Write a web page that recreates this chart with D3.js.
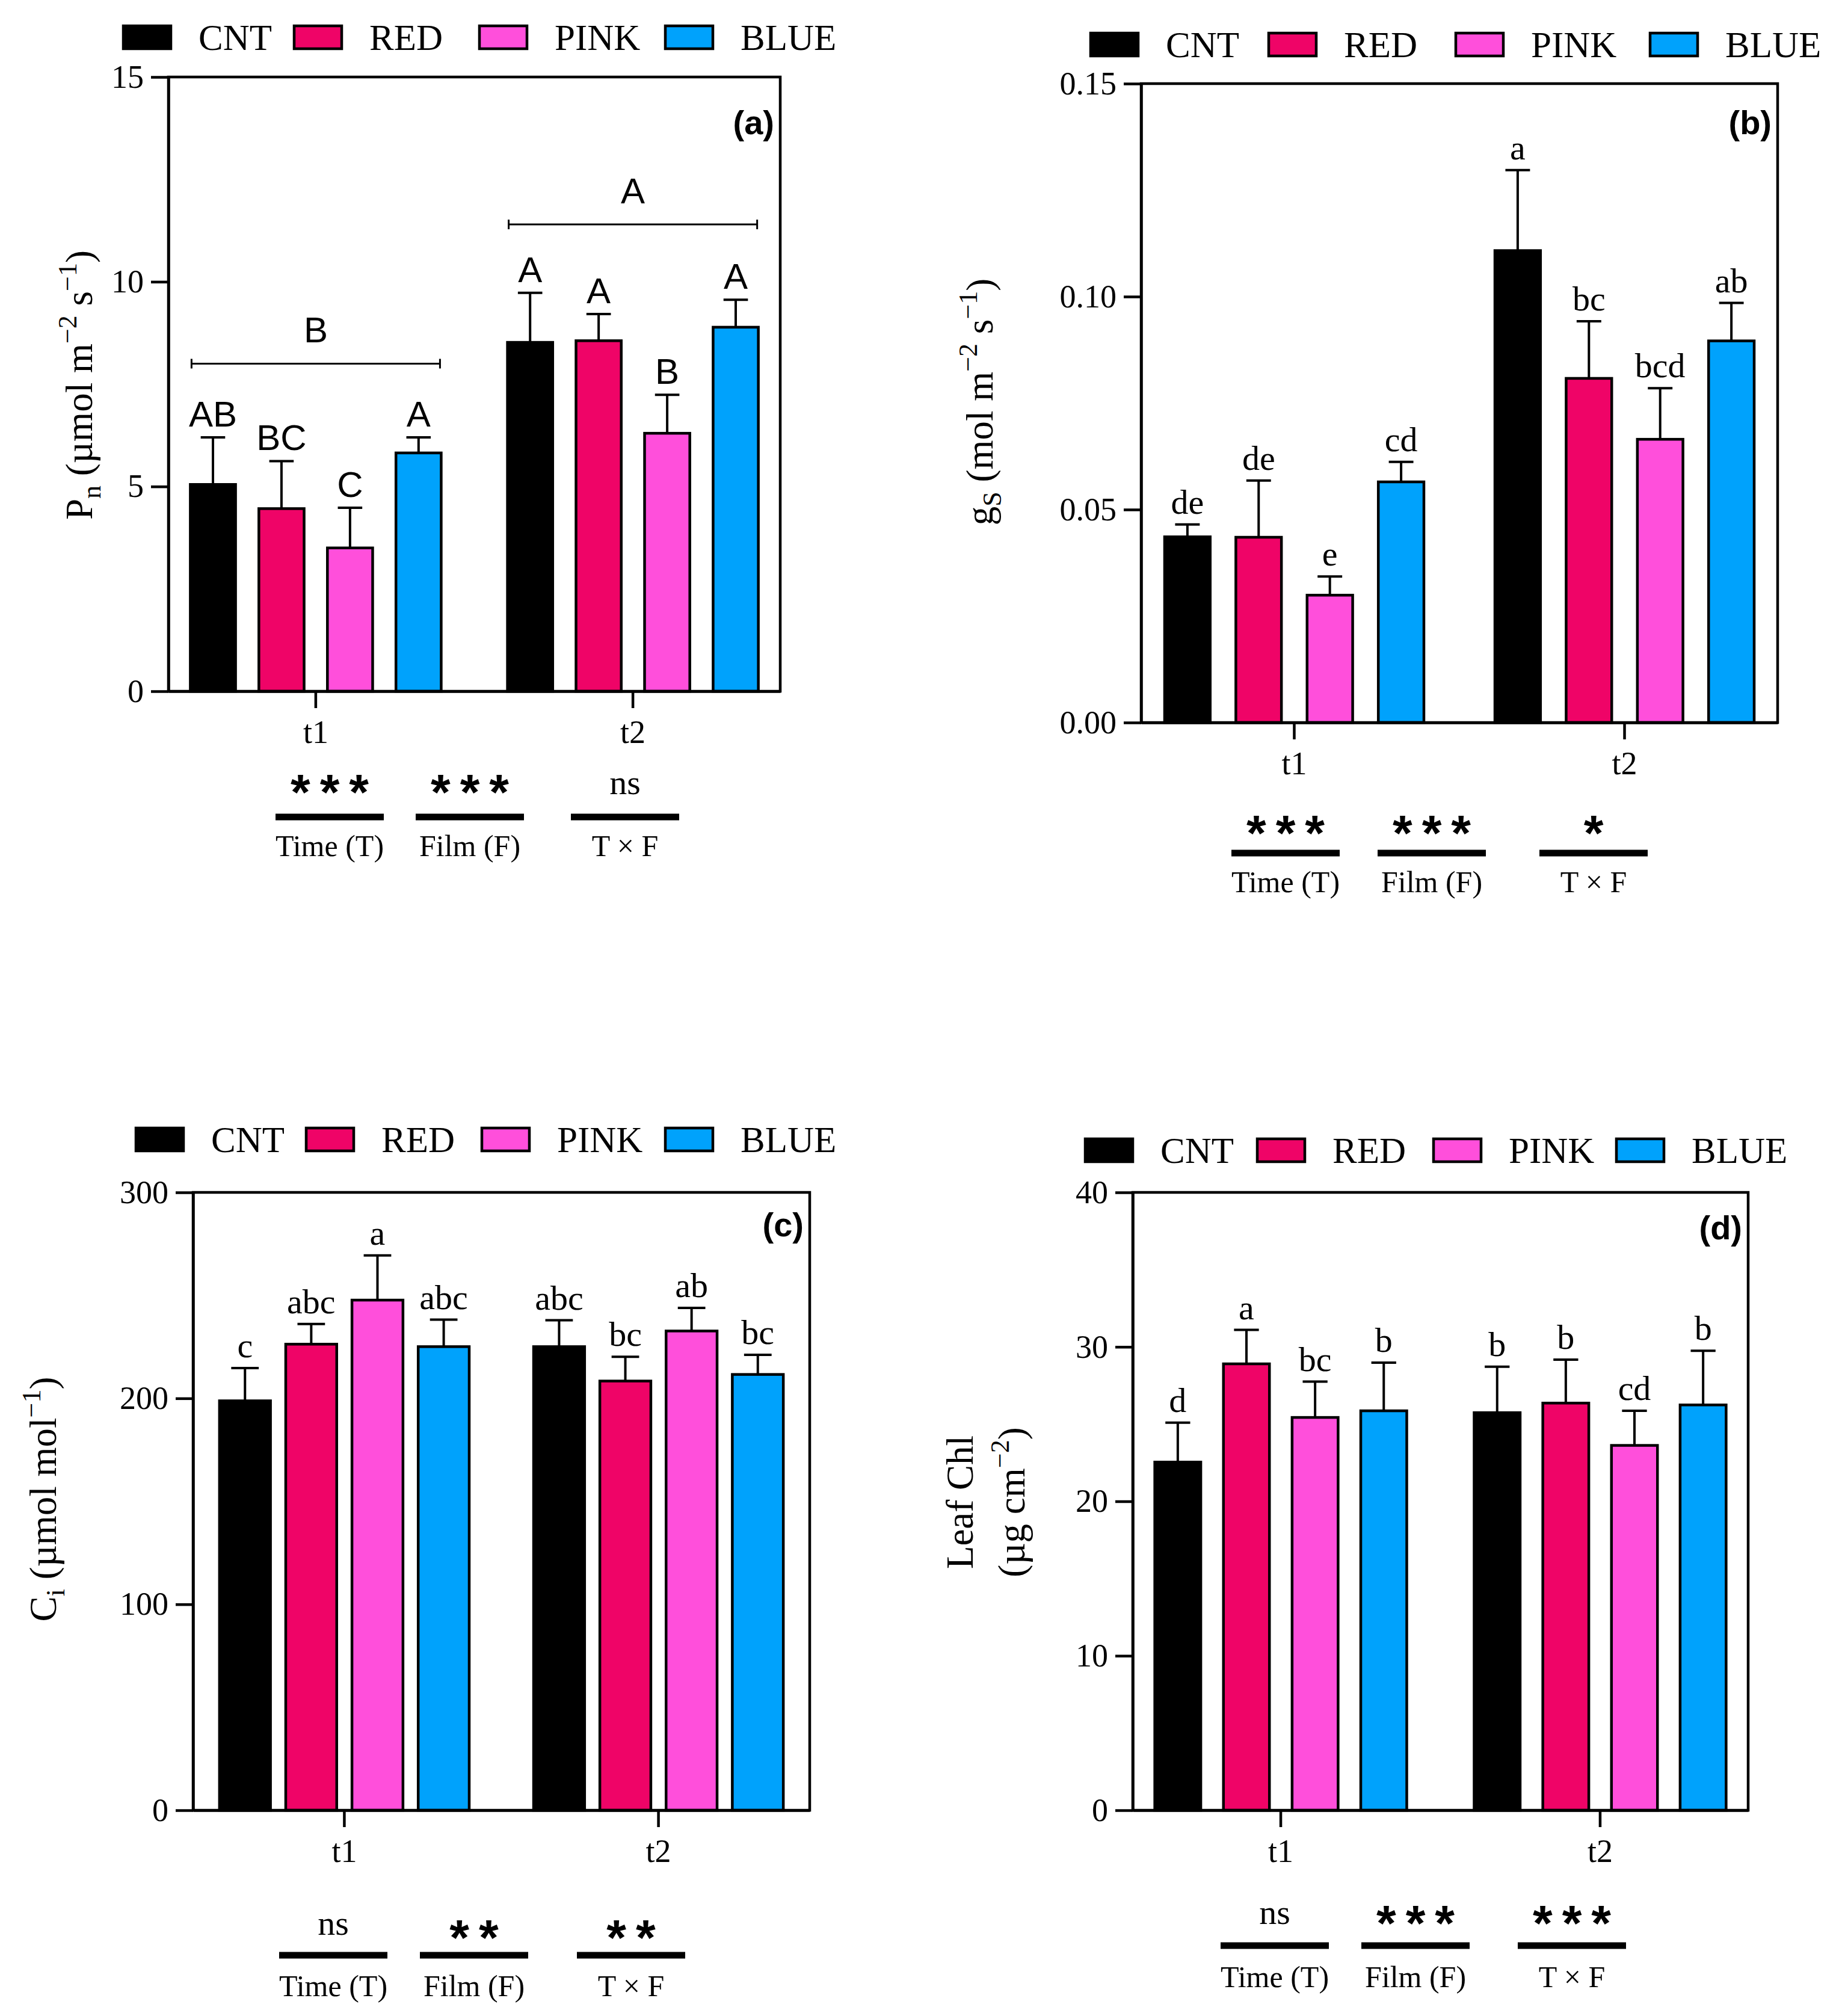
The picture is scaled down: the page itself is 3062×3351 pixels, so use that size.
<!DOCTYPE html>
<html>
<head>
<meta charset="utf-8">
<script src="https://cdn.jsdelivr.net/npm/d3@7"></script>
<style>
  body { margin: 0; background: #fff; }
  svg { display: block; }
</style>
</head>
<body>
<script>
(function () {
  'use strict'

  // ---- data ----
  var films = ['CNT', 'RED', 'PINK', 'BLUE']
  var times = ['t1', 't2']
  var filmColors = ['#000000', '#EF0467', '#FF4FDB', '#00A2FC']
  var factorLabels = ['Time (T)', 'Film (F)', 'T × F']

  // (a) net photosynthesis
  var pnMean = [[5.05, 4.46, 3.50, 5.82], [8.52, 8.56, 6.30, 8.89]]
  var pnSd = [[1.15, 1.16, 0.98, 0.38], [1.21, 0.65, 0.94, 0.67]]
  var pnLetters = [['AB', 'BC', 'C', 'A'], ['A', 'A', 'B', 'A']]
  var pnGroupLetters = ['B', 'A']
  var pnGroupLevel = [8.0, 11.4]
  var pnTicks = [0, 5, 10, 15]
  var pnSig = ['***', '***', 'ns']

  // (b) stomatal conductance
  var gsMean = [[0.0436, 0.0435, 0.0299, 0.0565], [0.1108, 0.0808, 0.0665, 0.0896]]
  var gsSd = [[0.0029, 0.0133, 0.0044, 0.0047], [0.0189, 0.0134, 0.0120, 0.0089]]
  var gsLetters = [['de', 'de', 'e', 'cd'], ['a', 'bc', 'bcd', 'ab']]
  var gsTicks = [0, 0.05, 0.10, 0.15]
  var gsSig = ['***', '***', '*']

  // (c) intercellular CO2
  var ciMean = [[198.8, 226.3, 247.7, 225.1], [225.1, 208.4, 232.7, 211.6]]
  var ciSd = [[15.9, 9.8, 21.7, 13.1], [12.8, 11.8, 11.2, 9.5]]
  var ciLetters = [['c', 'abc', 'a', 'abc'], ['abc', 'bc', 'ab', 'bc']]
  var ciTicks = [0, 100, 200, 300]
  var ciSig = ['ns', '**', '**']

  // (d) leaf chlorophyll
  var chlMean = [[22.54, 28.9, 25.43, 25.86], [25.74, 26.36, 23.62, 26.24]]
  var chlSd = [[2.55, 2.2, 2.32, 3.12], [2.97, 2.81, 2.24, 3.51]]
  var chlLetters = [['d', 'a', 'bc', 'b'], ['b', 'b', 'cd', 'b']]
  var chlTicks = [0, 10, 20, 30, 40]
  var chlSig = ['ns', '***', '***']

  var SERIF = "'Liberation Serif', 'Times New Roman', serif"
  var SANS = "'Liberation Sans', Arial, sans-serif"
  var LW = 4.5
  var STAR_GAP = 16

  var svg = d3.select('body').append('svg')
    .attr('width', 3062)
    .attr('height', 3351)
  svg.append('rect').attr('width', 3062).attr('height', 3351).attr('fill', '#fff')

  var panels = [
    {
      tag: '(a)', mean: pnMean, sd: pnSd, letters: pnLetters, ticks: pnTicks, sig: pnSig,
      domain: [0, 15], fmt: d3.format('d'), letterFont: SANS, letterSize: 60,
      groupLetters: pnGroupLetters, groupLevel: pnGroupLevel,
      left: 280, right: 1297, top: 128, bottom: 1149,
      padIn: 0.209, padOut: 0.069, barPad: 0.34,
      legendY: 43, legendX: [205, 489, 797, 1106],
      title: [[{ t: 'P' }, { t: 'n', sub: true }, { t: ' (µmol m' }, { t: '−2', sup: true }, { t: ' s' }, { t: '−1', sup: true }, { t: ')' }]],
      titleX: [153], titleY: 640,
      tagY: 223,
      sigX: [548, 781, 1039], sigLineY: 1358, sigStarY: 1302, sigNsY: 1320, sigLabelY: 1423
    },
    {
      tag: '(b)', mean: gsMean, sd: gsSd, letters: gsLetters, ticks: gsTicks, sig: gsSig,
      domain: [0, 0.15], fmt: d3.format('.2f'), letterFont: SERIF, letterSize: 58,
      left: 1897, right: 2955, top: 139, bottom: 1201,
      padIn: 0.215, padOut: 0.071, barPad: 0.36,
      legendY: 55, legendX: [1813, 2109, 2420, 2743],
      title: [[{ t: 'g' }, { t: 'S', sub: true }, { t: ' (mol m' }, { t: '−2', sup: true }, { t: ' s' }, { t: '−1', sup: true }, { t: ')' }]],
      titleX: [1650], titleY: 668,
      tagY: 223,
      sigX: [2137, 2380, 2649], sigLineY: 1418, sigStarY: 1370, sigNsY: 1388, sigLabelY: 1483
    },
    {
      tag: '(c)', mean: ciMean, sd: ciSd, letters: ciLetters, ticks: ciTicks, sig: ciSig,
      domain: [0, 300], fmt: d3.format('d'), letterFont: SERIF, letterSize: 58,
      left: 321, right: 1346, top: 1982, bottom: 3009,
      padIn: 0.205, padOut: 0.084, barPad: 0.23,
      legendY: 1875, legendX: [226, 509, 801, 1106],
      title: [[{ t: 'C' }, { t: 'i', sub: true }, { t: ' (µmol mol' }, { t: '−1', sup: true }, { t: ')' }]],
      titleX: [93], titleY: 2492,
      tagY: 2055,
      sigX: [554, 788, 1049], sigLineY: 3250, sigStarY: 3206, sigNsY: 3216, sigLabelY: 3318
    },
    {
      tag: '(d)', mean: chlMean, sd: chlSd, letters: chlLetters, ticks: chlTicks, sig: chlSig,
      domain: [0, 40], fmt: d3.format('d'), letterFont: SERIF, letterSize: 58,
      left: 1883, right: 2906, top: 1982, bottom: 3009,
      padIn: 0.211, padOut: 0.069, barPad: 0.33,
      legendY: 1893, legendX: [1804, 2090, 2383, 2687],
      title: [[{ t: 'Leaf Chl' }], [{ t: '(µg cm' }, { t: '−2', sup: true }, { t: ')' }]],
      titleX: [1617, 1703], titleY: 2497,
      tagY: 2060,
      sigX: [2119, 2353, 2613], sigLineY: 3234, sigStarY: 3182, sigNsY: 3198, sigLabelY: 3303
    }
  ]

  function addRichText (sel, parts, size) {
    var shift = 0
    parts.forEach(function (p) {
      var target = 0
      var fs = size
      if (p.sup) { target = -0.42 * size; fs = size * 0.7 }
      if (p.sub) { target = 0.22 * size; fs = size * 0.7 }
      sel.append('tspan')
        .attr('dy', target - shift)
        .attr('font-size', fs)
        .text(p.t)
      shift = target
    })
  }

  function drawPanel (p) {
    var g = svg.append('g')
    var x0 = d3.scaleBand().domain(times).range([p.left, p.right])
      .paddingInner(p.padIn).paddingOuter(p.padOut)
    var x1 = d3.scaleBand().domain(films).range([0, x0.bandwidth()])
      .paddingInner(p.barPad).paddingOuter(0)
    var y = d3.scaleLinear().domain(p.domain).range([p.bottom, p.top])

    var rows = []
    times.forEach(function (t, ti) {
      films.forEach(function (f, fi) {
        rows.push({ time: t, film: f, fi: fi, mean: p.mean[ti][fi], sd: p.sd[ti][fi], letter: p.letters[ti][fi] })
      })
    })
    function cx (d) { return x0(d.time) + x1(d.film) + x1.bandwidth() / 2 }
    var capW = x1.bandwidth() * 0.54

    // error bars
    var eb = g.append('g').attr('stroke', '#000').attr('stroke-width', 4)
    eb.selectAll('line.v').data(rows).join('line')
      .attr('x1', cx).attr('x2', cx)
      .attr('y1', function (d) { return y(d.mean) })
      .attr('y2', function (d) { return y(d.mean + d.sd) })
    eb.selectAll('line.c').data(rows).join('line')
      .attr('x1', function (d) { return cx(d) - capW / 2 })
      .attr('x2', function (d) { return cx(d) + capW / 2 })
      .attr('y1', function (d) { return y(d.mean + d.sd) })
      .attr('y2', function (d) { return y(d.mean + d.sd) })

    // bars
    g.append('g').selectAll('rect').data(rows).join('rect')
      .attr('x', function (d) { return x0(d.time) + x1(d.film) })
      .attr('y', function (d) { return y(d.mean) })
      .attr('width', x1.bandwidth())
      .attr('height', function (d) { return y(0) - y(d.mean) })
      .attr('fill', function (d) { return filmColors[d.fi] })
      .attr('stroke', '#000')
      .attr('stroke-width', LW)

    // letters
    g.append('g').selectAll('text').data(rows).join('text')
      .attr('x', cx)
      .attr('y', function (d) { return y(d.mean + d.sd) - 18 })
      .attr('text-anchor', 'middle')
      .attr('font-family', p.letterFont)
      .attr('font-size', p.letterSize)
      .text(function (d) { return d.letter })

    // group brackets (panel a)
    if (p.groupLetters) {
      var gb = g.append('g')
      times.forEach(function (t, ti) {
        var xa = x0(t) + 2
        var xb = x0(t) + x0.bandwidth() - 2
        var yy = y(p.groupLevel[ti])
        gb.append('line').attr('x1', xa).attr('x2', xb).attr('y1', yy).attr('y2', yy)
          .attr('stroke', '#000').attr('stroke-width', 3)
        ;[xa, xb].forEach(function (xe) {
          gb.append('line').attr('x1', xe).attr('x2', xe).attr('y1', yy - 8).attr('y2', yy + 8)
            .attr('stroke', '#000').attr('stroke-width', 3)
        })
        gb.append('text')
          .attr('x', (xa + xb) / 2).attr('y', yy - 35)
          .attr('text-anchor', 'middle')
          .attr('font-family', SANS).attr('font-size', 60)
          .text(p.groupLetters[ti])
      })
    }

    // axes
    var yAxis = g.append('g')
      .attr('transform', 'translate(' + p.left + ',0)')
      .call(d3.axisLeft(y).tickValues(p.ticks).tickFormat(p.fmt).tickSize(29).tickSizeOuter(0).tickPadding(12))
    var xAxis = g.append('g')
      .attr('transform', 'translate(0,' + p.bottom + ')')
      .call(d3.axisBottom(x0).tickSize(28).tickSizeOuter(0).tickPadding(20))
    ;[yAxis, xAxis].forEach(function (a) {
      a.selectAll('path, line').attr('stroke', '#000').attr('stroke-width', LW)
      a.selectAll('text').attr('font-family', SERIF).attr('font-size', 54).attr('fill', '#000')
    })
    g.append('rect')
      .attr('x', p.left).attr('y', p.top)
      .attr('width', p.right - p.left).attr('height', p.bottom - p.top)
      .attr('fill', 'none').attr('stroke', '#000').attr('stroke-width', LW)

    // panel tag
    g.append('text')
      .attr('x', p.right - 10).attr('y', p.tagY)
      .attr('text-anchor', 'end')
      .attr('font-family', SANS).attr('font-weight', 'bold').attr('font-size', 56)
      .text(p.tag)

    // y title
    p.title.forEach(function (parts, li) {
      var tt = g.append('text')
        .attr('transform', 'translate(' + p.titleX[li] + ',' + p.titleY + ') rotate(-90)')
        .attr('text-anchor', 'middle')
        .attr('font-family', SERIF)
        .attr('font-size', 63)
      addRichText(tt, parts, 63)
    })

    // legend
    var lg = g.append('g')
    films.forEach(function (f, fi) {
      lg.append('rect')
        .attr('x', p.legendX[fi]).attr('y', p.legendY)
        .attr('width', 79).attr('height', 38)
        .attr('fill', filmColors[fi])
        .attr('stroke', '#000').attr('stroke-width', LW)
      lg.append('text')
        .attr('x', p.legendX[fi] + 125).attr('y', p.legendY + 40)
        .attr('font-family', SERIF).attr('font-size', 61)
        .text(f)
    })

    // two-way ANOVA significance row
    var sg = g.append('g')
    p.sig.forEach(function (s, si) {
      var sx = p.sigX[si]
      sg.append('rect')
        .attr('x', sx - 90).attr('y', p.sigLineY - 5.5)
        .attr('width', 180).attr('height', 11)
        .attr('fill', '#000')
      var isStar = /^\*+$/.test(s)
      sg.append('text')
        .attr('x', isStar ? sx + STAR_GAP / 2 : sx)
        .attr('y', isStar ? p.sigStarY + 44 : p.sigNsY)
        .attr('text-anchor', 'middle')
        .attr('font-family', isStar ? SANS : SERIF)
        .attr('font-weight', isStar ? 'bold' : 'normal')
        .attr('font-size', isStar ? 84 : 58)
        .attr('letter-spacing', isStar ? STAR_GAP : 0)
        .text(s)
      sg.append('text')
        .attr('x', sx).attr('y', p.sigLabelY)
        .attr('text-anchor', 'middle')
        .attr('font-family', SERIF).attr('font-size', 50)
        .text(factorLabels[si])
    })
  }

  panels.forEach(drawPanel)
})()
</script>
</body>
</html>
